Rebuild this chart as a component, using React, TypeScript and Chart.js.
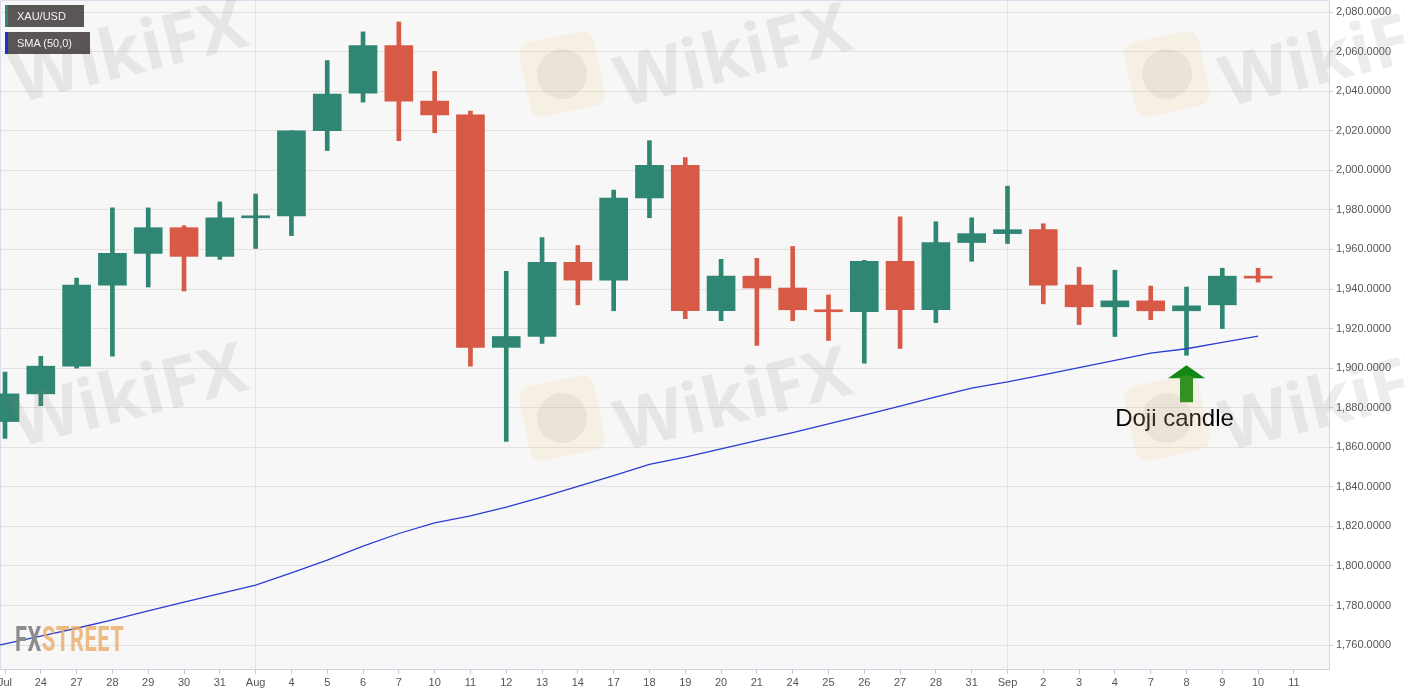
import { useEffect, useRef } from "react";
import { Chart, registerables } from "chart.js";

Chart.register(...registerables);

// daily XAU/USD candles, Jul 23 → Sep 10 (last label is the empty Sep 11 slot)
const DAY_LABELS = [
  "Jul", "24", "27", "28", "29", "30", "31", "Aug", "4", "5", "6", "7", "10",
  "11", "12", "13", "14", "17", "18", "19", "20", "21", "24", "25", "26", "27",
  "28", "31", "Sep", "2", "3", "4", "7", "8", "9", "10", "11",
];
const MONTH_LABELS = ["Aug", "Sep"];

const OPEN = [
  1873, 1887, 1901, 1942, 1958, 1971, 1956.5, 1976, 1977, 2020, 2039, 2063,
  2035, 2028, 1910.5, 1916, 1953.5, 1944.5, 1986, 2002.5, 1929, 1946.5, 1940.5,
  1929.3, 1928.5, 1954, 1929.5, 1963.5, 1968, 1970, 1942, 1931, 1934, 1929,
  1932, 1946.5,
];
const HIGH = [
  1898, 1906, 1945.5, 1981, 1981, 1972, 1984, 1988, 2020, 2055.5, 2070, 2075,
  2050, 2030, 1949, 1966, 1962, 1990, 2015, 2006.5, 1955, 1955.5, 1961.5, 1937,
  1954.5, 1976.5, 1974, 1976, 1992, 1973, 1951, 1949.5, 1941.5, 1941, 1950.5,
  1950.5,
];
const LOW = [
  1864.5, 1881, 1900, 1906, 1941, 1939, 1955, 1960.5, 1967, 2010, 2034.5, 2015,
  2019, 1901, 1863, 1912.5, 1932, 1929, 1976, 1925, 1924, 1911.5, 1924, 1914,
  1902.5, 1910, 1923, 1954, 1963, 1932.5, 1922, 1916, 1924.5, 1906.5, 1920,
  1943.5,
];
const CLOSE = [
  1887, 1901, 1942, 1958, 1971, 1956.5, 1976, 1977, 2020, 2038.5, 2063, 2035,
  2028, 1910.5, 1916, 1953.5, 1944.5, 1986, 2002.5, 1929, 1946.5, 1940.5,
  1929.5, 1928.5, 1954, 1929.5, 1963.5, 1968, 1970, 1942, 1931, 1934, 1929,
  1931.5, 1946.5, 1945.5,
];
// SMA(50); first value belongs to Jul 22, just left of the visible range
const SMA_50 = [
  1756.7, 1760.6, 1764.5, 1768.5, 1772.7, 1777.3, 1781.7, 1786.0, 1790.3,
  1796.5, 1802.9, 1810.0, 1816.4, 1821.8, 1825.3, 1829.7, 1834.8, 1840.2,
  1845.7, 1851.3, 1855.0, 1859.2, 1863.4, 1867.4, 1871.8, 1876.3, 1880.8,
  1885.5, 1889.9, 1893.0, 1896.6, 1900.3, 1903.9, 1907.6, 1909.8, 1913.0,
  1916.2,
];

const DOJI_INDEX = 33;
const DOJI_TEXT = "Doji candle";

const GREEN = "#2f8672";
const RED = "#d65a46";
const FONT = '"Liberation Sans", Arial, Helvetica, sans-serif';

const plotFrame = {
  id: "plotFrame",
  beforeDraw(chart: any) {
    const { ctx, chartArea: a } = chart;
    ctx.save();
    ctx.fillStyle = "#f7f7f7";
    ctx.fillRect(a.left, a.top, a.right - a.left, a.bottom - a.top);
    ctx.strokeStyle = "#dcdcec";
    ctx.lineWidth = 1;
    ctx.beginPath();
    ctx.moveTo(a.left + 0.5, a.bottom);
    ctx.lineTo(a.left + 0.5, a.top - 0.5);
    ctx.lineTo(a.right, a.top - 0.5);
    ctx.stroke();
    ctx.restore();
  },
};

// green arrow + caption under the doji
const dojiMarker = {
  id: "dojiMarker",
  afterDatasetsDraw(chart: any) {
    const { ctx, scales } = chart;
    const cx = scales.x.getPixelForValue(DOJI_INDEX);
    const tip = scales.y.getPixelForValue(LOW[DOJI_INDEX]) + 10;
    ctx.save();
    ctx.fillStyle = "#118811";
    ctx.beginPath();
    ctx.moveTo(cx, tip);
    ctx.lineTo(cx + 18.5, tip + 13);
    ctx.lineTo(cx + 6.5, tip + 13);
    ctx.lineTo(cx + 6.5, tip + 37);
    ctx.lineTo(cx - 6.5, tip + 37);
    ctx.lineTo(cx - 6.5, tip + 13);
    ctx.lineTo(cx - 18.5, tip + 13);
    ctx.closePath();
    ctx.fill();
    ctx.fillStyle = "#000";
    ctx.font = `24px ${FONT}`;
    ctx.textAlign = "center";
    ctx.textBaseline = "middle";
    ctx.fillText(DOJI_TEXT, cx - 12, tip + 54);
    ctx.restore();
  },
};

function Watermark({ x, y, logo }: { x: number; y: number; logo?: boolean }) {
  return (
    <>
      {logo && (
        <div
          style={{
            position: "absolute",
            left: x - 170 - 38,
            top: y + 22 - 38,
            width: 76,
            height: 76,
            borderRadius: 12,
            background: "rgba(240,200,120,0.15)",
            transform: "rotate(-12deg)",
            display: "flex",
            alignItems: "center",
            justifyContent: "center",
          }}
        >
          <div
            style={{
              width: 50,
              height: 50,
              borderRadius: "50%",
              background: "rgba(150,135,135,0.12)",
            }}
          />
        </div>
      )}
      <div
        style={{
          position: "absolute",
          left: x,
          top: y,
          transform: "translate(-50%, -50%) rotate(-14deg)",
          font: 'bold 70px "Open Sans", sans-serif',
          color: "rgba(150,130,130,0.15)",
          whiteSpace: "nowrap",
        }}
      >
        WikiFX
      </div>
    </>
  );
}

function LegendTag({ top, width, color, text }: { top: number; width: number; color: string; text: string }) {
  return (
    <div
      style={{
        position: "absolute",
        left: 5,
        top,
        width,
        height: 22,
        boxSizing: "border-box",
        background: "rgba(72,68,66,0.9)",
        borderLeft: `3px solid ${color}`,
        color: "#f2f2f2",
        font: `11px ${FONT}`,
        lineHeight: "22px",
        paddingLeft: 9,
      }}
    >
      {text}
    </div>
  );
}

export default function App() {
  const canvasRef = useRef<HTMLCanvasElement>(null);

  useEffect(() => {
    if (!canvasRef.current) return;
    const idx = OPEN.map((_, i) => i);
    const colors = idx.map((i) => (CLOSE[i] >= OPEN[i] ? GREEN : RED));

    const chart = new Chart(canvasRef.current, {
      type: "bar",
      data: {
        datasets: [
          {
            type: "line",
            data: SMA_50.map((v, i) => ({ x: i - 1, y: v })),
            borderColor: "#2b3cd2",
            borderWidth: 1.3,
            pointRadius: 0,
            tension: 0,
            order: 0,
          },
          {
            data: idx.map((i) => ({ x: i, y: [OPEN[i], CLOSE[i]] })),
            backgroundColor: colors,
            barThickness: 28,
            minBarLength: 2,
            grouped: false,
            order: 1,
          },
          {
            data: idx.map((i) => ({ x: i, y: [LOW[i], HIGH[i]] })),
            backgroundColor: colors,
            barThickness: 4,
            grouped: false,
            order: 2,
          },
        ] as any,
      },
      options: {
        responsive: true,
        maintainAspectRatio: false,
        animation: false,
        events: [],
        layout: { padding: { top: 1, left: 0, right: 0, bottom: 0 } },
        plugins: {
          legend: { display: false },
          tooltip: { enabled: false },
        },
        scales: {
          x: {
            type: "linear",
            min: -0.14,
            max: 36.98,
            offset: false,
            grid: {
              offset: false,
              color: (c: any) =>
                c.tick && MONTH_LABELS.includes(DAY_LABELS[c.tick.value])
                  ? "#e3e3e3"
                  : "rgba(0,0,0,0)",
              tickColor: "#c9c9d8",
              tickLength: 5,
            },
            border: { color: "#d3d3e3" },
            ticks: {
              stepSize: 1,
              includeBounds: false,
              autoSkip: false,
              maxRotation: 0,
              padding: 2,
              color: "#555",
              font: { family: FONT, size: 11 },
              callback: (v: any) => DAY_LABELS[v] ?? "",
            },
            afterFit: (s: any) => {
              s.height = 26;
              s.paddingLeft = 0;
              s.paddingRight = 0;
            },
          },
          y: {
            position: "right",
            min: 1747.9,
            max: 2085.6,
            beginAtZero: false,
            grid: { color: "#e2e2e2", tickColor: "#c9c9d8", tickLength: 4 },
            border: { color: "#d3d3e3" },
            ticks: {
              stepSize: 20,
              includeBounds: false,
              padding: 3,
              color: "#555",
              font: { family: FONT, size: 11 },
              callback: (v: any) =>
                Number(v).toLocaleString("en-US", {
                  minimumFractionDigits: 4,
                  maximumFractionDigits: 4,
                }),
            },
            afterFit: (s: any) => {
              s.width = 76;
              s.paddingTop = 0;
              s.paddingBottom = 0;
            },
          },
        },
      } as any,
      plugins: [plotFrame, dojiMarker],
    });

    return () => chart.destroy();
  }, []);

  return (
    <div
      style={{
        position: "relative",
        width: 1405,
        height: 695,
        overflow: "hidden",
        background: "#fff",
        fontFamily: FONT,
      }}
    >
      <style>{"body{margin:0}"}</style>
      <div style={{ position: "absolute", inset: 0 }}>
        <canvas ref={canvasRef} />
      </div>

      {/* watermarks */}
      <div style={{ position: "absolute", inset: 0, pointerEvents: "none", overflow: "hidden" }}>
        <Watermark x={128} y={48} />
        <Watermark x={732} y={52} logo />
        <Watermark x={1337} y={52} logo />
        <Watermark x={128} y={392} />
        <Watermark x={732} y={396} logo />
        <Watermark x={1337} y={396} logo />
      </div>

      <LegendTag top={5} width={79} color={GREEN} text="XAU/USD" />
      <LegendTag top={32} width={85} color="#1a2ee0" text="SMA (50,0)" />

      <div
        style={{
          position: "absolute",
          left: 15,
          top: 619,
          font: "bold 35px Roboto, sans-serif",
          transform: "scaleX(0.62)",
          transformOrigin: "left top",
          whiteSpace: "nowrap",
          letterSpacing: 1,
        }}
      >
        <span style={{ color: "#8c8c8c" }}>FX</span>
        <span style={{ color: "rgba(233,170,100,0.8)" }}>STREET</span>
      </div>
    </div>
  );
}
